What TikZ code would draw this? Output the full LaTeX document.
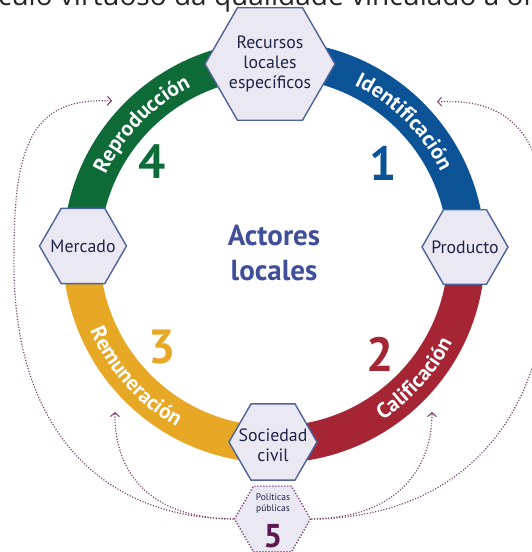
\documentclass[tikz,border=0pt]{standalone}
\usepackage{fontspec}
\setmainfont{PT Sans}
\newfontfamily\titlefont{Open Sans}
\usetikzlibrary{shapes.geometric, decorations.text, arrows.meta}
\definecolor{cgreen}{HTML}{0E6B38}
\definecolor{cblue}{HTML}{0B5396}
\definecolor{cred}{HTML}{A52535}
\definecolor{cyellow}{HTML}{E6A825}
\definecolor{hexfill}{HTML}{E9E8F3}
\definecolor{hexborder}{HTML}{4E6399}
\definecolor{hextext}{HTML}{1F2448}
\definecolor{dotc}{HTML}{7B3F6E}
\definecolor{fivec}{HTML}{5B1A4F}
\definecolor{actc}{HTML}{3F4F9A}
\newcommand\bandfont{\bfseries\fontsize{21.5}{21.5}\selectfont\color{white}}
\tikzset{
  band/.style={line width=37pt},
  hexa/.style={regular polygon, regular polygon sides=6, draw=hexborder, fill=hexfill, line width=1.4pt, inner sep=0pt},
  hexlabel/.style={align=center, text=hextext, inner sep=0pt, font=\fontsize{17.8}{20}\selectfont},
  numlabel/.style={inner sep=0pt, font=\bfseries\fontsize{48}{48}\selectfont},
  flow/.style={draw=dotc, line width=1.2pt, dash pattern=on 1.1pt off 1.7pt, -{Straight Barb[length=4pt,width=9pt,line width=1pt]}}
}
\begin{document}
\begin{tikzpicture}[x=1pt,y=1pt]
\useasboundingbox (-274,-300) rectangle (257,252);
% title (cut at top)
\node[anchor=base west, inner sep=0pt, text=black!85, font=\titlefont\fontsize{28}{28}\selectfont] (title) at (-276,246) {\llap{Cír}culo virtuoso da qualidade vinculado à origem};
% ring
\draw[band, cgreen] (180:192.5) arc[start angle=180, end angle=90, radius=192.5];
\draw[band, cblue] (90:192.5) arc[start angle=90, end angle=0, radius=192.5];
\draw[band, cred] (0:192.5) arc[start angle=0, end angle=-90, radius=192.5];
\draw[band, cyellow] (-90:192.5) arc[start angle=-90, end angle=-180, radius=192.5];
% band texts
\path[decorate, decoration={text along path, text align=center, text={|\bandfont|Reproducción}}]
  (166:185) arc[start angle=166, end angle=106, radius=185];
\path[decorate, decoration={text along path, text align=center, text={|\bandfont|Identificación}}]
  (75:185) arc[start angle=75, end angle=15, radius=185];
\path[decorate, decoration={text along path, text align=center, text={|\bandfont|Calificación}}]
  (-72:200) arc[start angle=-72, end angle=-12, radius=200];
\path[decorate, decoration={text along path, text align=center, text={|\bandfont|Remuneración}}]
  (-168:200) arc[start angle=-168, end angle=-108, radius=200];
% numbers
\node[numlabel, text=cblue] (n1) at (109,89) {1};
\node[numlabel, text=cred] (n2) at (106,-102) {2};
\node[numlabel, text=cyellow] (n3) at (-112,-95) {3};
\node[numlabel, text=cgreen] (n4) at (-122,90) {4};
% centre
\node[align=center, text=actc, inner sep=0pt, font=\bfseries\fontsize{29}{35}\selectfont] (act) at (0,-1) {Actores\\locales};
% politicas hexagon and flows
\node[hexa, draw=dotc, dash pattern=on 1.2pt off 1.8pt, minimum size=76pt] (pp) at (-1.5,-267) {};
\coordinate (tipLo) at (-162,151);
\coordinate (tipLi) at (-159,-160);
\coordinate (tipRo) at (163,150);
\coordinate (tipRi) at (158,-160);
\coordinate (lo1) at (-260,0);
\coordinate (ro1) at (275,0);
\draw[flow] (pp.west) .. controls (-170,-266) and (-264,-180) .. (lo1) .. controls (-260,110) and (-240,155) .. (tipLo);
\draw[flow] (pp.west) .. controls (-130,-266) and (-160,-215) .. (tipLi);
\draw[flow] (pp.east) .. controls (180,-266) and (276,-175) .. (ro1) .. controls (275,110) and (242,155) .. (tipRo);
\draw[flow] (pp.east) .. controls (125,-266) and (158,-215) .. (tipRi);
\node[align=center, text=hextext, inner sep=0pt, font=\fontsize{9.5}{11}\selectfont] (ppL) at (-1,-251.5) {Políticas\\públicas};
\node[inner sep=0pt, text=fivec, font=\bfseries\fontsize{33}{33}\selectfont] (five) at (-1,-284) {5};
% hexagons
\node[hexa, minimum size=130pt] (rec) at (-4,188) {};
\node[hexlabel] (recL) at (rec) {Recursos\\locales\\específicos};
\node[hexa, minimum size=87pt] (mer) at (-191,6) {};
\node[hexlabel] (merL) at (mer) {Mercado};
\node[hexa, minimum size=86pt] (pro) at (191,5) {};
\node[hexlabel] (proL) at (pro) {Producto};
\node[hexa, minimum size=88pt] (soc) at (-1,-190) {};
\node[hexlabel] (socL) at ([yshift=-3pt]soc) {Sociedad\\civil};
\end{tikzpicture}
\end{document}
